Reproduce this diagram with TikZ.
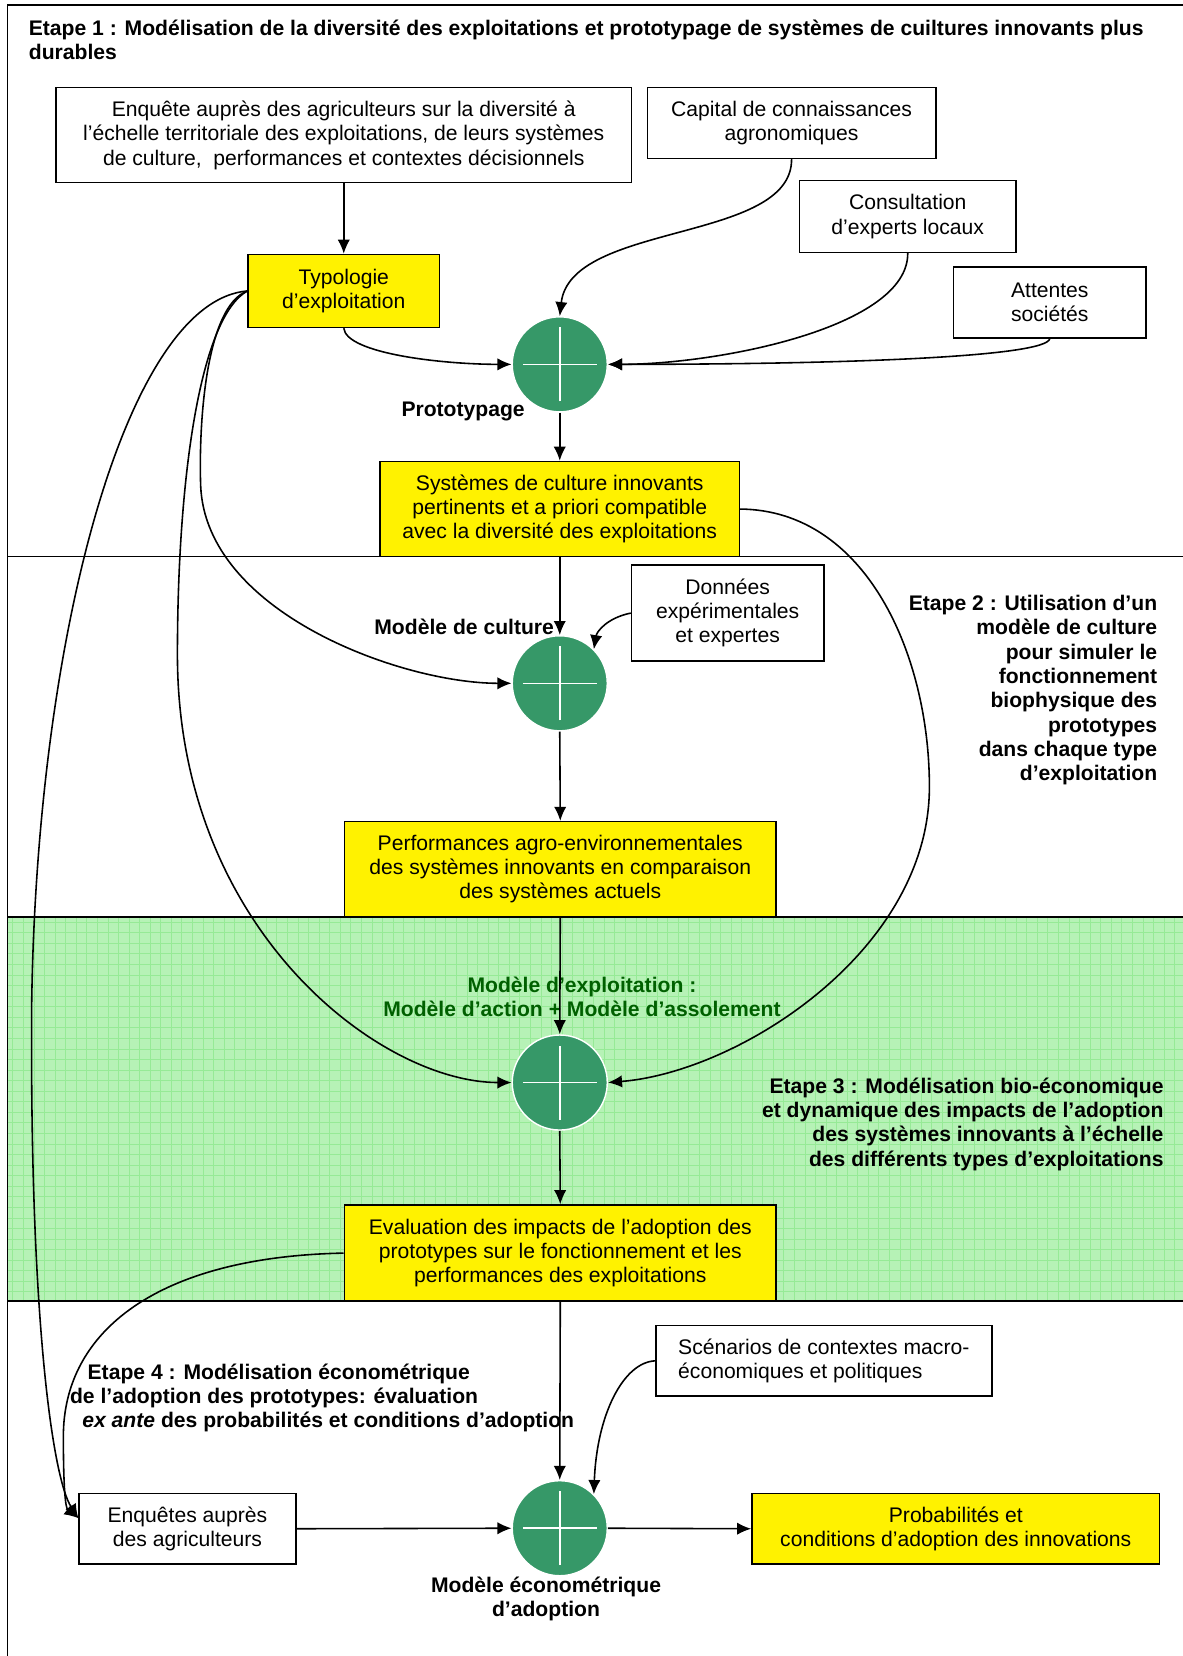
\documentclass[tikz,border=0pt]{standalone}
\usepackage{fontspec}
\setmainfont{Liberation Sans}
\usetikzlibrary{arrows.meta}

\definecolor{plusgreen}{RGB}{54,152,104}
\definecolor{bandgreen}{RGB}{182,242,182}
\definecolor{gridgreen}{RGB}{150,234,150}
\definecolor{labelgreen}{RGB}{0,96,0}

\begin{document}
\begin{tikzpicture}[>=Latex, x=0.6pt, y=-0.6pt,
	txt/.style={font=\fontsize{12}{13.8}\selectfont},
	box/.style={draw, line width=0.9pt, align=center, inner sep=0pt, txt},
	ybox/.style={box, fill=yellow},
	plus/.style={circle, fill=plusgreen, draw=white, line width=0.8pt, minimum size=54pt, inner sep=0pt},
	lbl/.style={font=\bfseries\fontsize{12}{13.8}\selectfont, inner sep=0pt},
	link/.style={-{Latex[length=8pt,width=7pt]}, line width=0.9pt},
	cross/.style={white, line width=0.9pt},
	gridline/.style={gridgreen, line width=0.25pt},
	]
	
	\useasboundingbox (0,0) rectangle (1120,1568);
	
	% ----- background: green band of step 3 and the frame
	\fill[bandgreen] (7,868) rectangle (1120,1232);
	\foreach \gx in {12,22,...,1120}
	\draw[gridline] (\gx,868) -- (\gx,1232);
	\foreach \gy in {873,883,...,1232}
	\draw[gridline] (7,\gy) -- (1120,\gy);
	\draw[line width=1pt] (1120,5) -- (7,5) -- (7,1568);
	\draw[line width=1pt] (7,527) -- (1120,527);
	\draw[line width=1pt] (7,868) -- (1120,868);
	\draw[line width=1pt] (7,1232) -- (1120,1232);
	
	% ----- ETAPE 1: prototypage
	\node[lbl, anchor=west, align=left] (et1) at (27,38)
	{Etape 1 : Modélisation de la diversité des exploitations et prototypage de systèmes de cuiltures innovants plus\\durables};
	
	\node[box, minimum width=327pt, minimum height=54pt] (enq) at (325.5,128)
	{Enquête auprès des agriculteurs sur la diversité à\\l’échelle territoriale des exploitations, de leurs systèmes\\de culture,\ \ performances et contextes décisionnels};
	\node[box, minimum width=163.8pt, minimum height=40.2pt] (cap) at (749.5,116.5)
	{Capital de connaissances\\agronomiques};
	\node[box, minimum width=123pt, minimum height=40.8pt] (con) at (859.5,205)
	{Consultation\\d’experts locaux};
	\node[box, minimum width=109.2pt, minimum height=40.2pt] (att) at (994,286.5)
	{Attentes\\sociétés};
	\node[ybox, minimum width=108.6pt, minimum height=41.4pt] (typo) at (325.5,275.5)
	{Typologie\\d’exploitation};
	
	\node[plus] (c1) at (530,345) {};
	\node[lbl] (proto) at (438.5,390) {Prototypage};
	
	\node[ybox, minimum width=204pt, minimum height=54pt] (sys) at (530,482)
	{Systèmes de culture innovants\\pertinents et a priori compatible\\avec la diversité des exploitations};
	
	% ----- ETAPE 2: modele de culture
	\node[box, minimum width=109.2pt, minimum height=54.6pt] (don) at (689,580.5)
	{Données\\expérimentales\\et expertes};
	\node[plus] (c2) at (530,647) {};
	\node[lbl] (mcult) at (439.5,594) {Modèle de culture};
	
	\node[ybox, minimum width=245.4pt, minimum height=54pt] (perf) at (530.5,823)
	{Performances agro-environnementales\\des systèmes innovants en comparaison\\des systèmes actuels};
	
	\node[lbl, anchor=east, align=right] (et2) at (1096,653.5)
	{Etape 2 : Utilisation d’un\\modèle de culture\\pour simuler le\\fonctionnement\\biophysique des\\prototypes\\dans chaque type\\d’exploitation};
	
	% ----- ETAPE 3: modele d'exploitation
	\node[lbl, text=labelgreen, align=center] (mexp) at (551,944)
	{Modèle d’exploitation :\\Modèle d’action + Modèle d’assolement};
	\node[plus] (c3) at (530,1025) {};
	
	\node[lbl, anchor=east, align=right] (et3) at (1102,1064.5)
	{Etape 3 : Modélisation bio-économique\\et dynamique des impacts de l’adoption\\des systèmes innovants à l’échelle\\des différents types d’exploitations};
	
	\node[ybox, minimum width=245.4pt, minimum height=54.6pt] (eval) at (530.5,1186.5)
	{Evaluation des impacts de l’adoption des\\prototypes sur le fonctionnement et les\\performances des exploitations};
	
	% ----- ETAPE 4: modele econometrique
	\node[lbl, anchor=west, align=left] (et4) at (66,1323.5)
	{\hspace*{10pt}Etape 4 : Modélisation économétrique\\de l’adoption des prototypes: évaluation\\\hspace*{7pt}\textit{ex ante} des probabilités et conditions d’adoption};
	
	\node[box, minimum width=190.8pt, minimum height=40.2pt, align=left] (scen) at (780,1288.5)
	{Scénarios de contextes macro-\\économiques et politiques};
	\node[box, minimum width=123pt, minimum height=40.2pt] (enq2) at (177.5,1447.5)
	{Enquêtes auprès\\des agriculteurs};
	\node[plus] (c4) at (530,1447) {};
	\node[ybox, minimum width=231.6pt, minimum height=40.2pt] (prob) at (905,1447.5)
	{Probabilités et\\conditions d’adoption des innovations};
	\node[lbl, align=center] (meco) at (517,1514)
	{Modèle économétrique\\d’adoption};
	
	% crosses in the green circles
	\foreach \c in {c1,c2,c3,c4}
	\draw[cross] ([xshift=-21pt]\c.center) -- ([xshift=21pt]\c.center)
	([yshift=-21pt]\c.center) -- ([yshift=21pt]\c.center);
	
	% ----- connectors
	\draw[link] (enq.south) -- (typo.north);
	\draw[link] (cap.south) .. controls (750,230) and (540,210) .. (c1.north);
	\draw[link] (con.south) .. controls (860,310) and (680,345) .. (c1.east);
	\draw[link] (att.south) .. controls (990,338) and (800,345) .. (c1.east);
	\draw[link] (typo.south) .. controls (328,335) and (420,345) .. (c1.west);
	\draw[link] (c1.south) -- (sys.north);
	\draw[link] (sys.south) -- (c2.north);
	\draw[link] (don.west) .. controls (575,585) and (565,598) .. (c2.north east);
	\draw[link] (typo.west) .. controls (195,290) and (188,400) .. (190,460)
	.. controls (195,580) and (380,647) .. (c2.west);
	\draw[link] (c2.south) -- (perf.north);
	\draw[link] (perf.south) -- (c3.north);
	\draw[link] (typo.west) .. controls (190,300) and (168,450) .. (168,620)
	.. controls (168,880) and (360,1025) .. (c3.west);
	\draw[link] (sys.east) .. controls (820,483) and (880,620) .. (880,745)
	.. controls (880,900) and (700,1015) .. (c3.east);
	\draw[link] (c3.south) -- (eval.north);
	\draw[link] (eval.south) -- (c4.north);
	\draw[link] (scen.west) .. controls (590,1290) and (565,1340) .. (c4.north east);
	\draw[link] (enq2.east) -- (c4.west);
	\draw[link] (c4.east) -- (prob.west);
	\draw[link] (eval.west) .. controls (150,1190) and (60,1260) .. (60,1360)
	.. controls (60,1410) and (62,1428) .. ([yshift=6pt]enq2.west);
	\draw[link] (typo.west) .. controls (120,285) and (35,600) .. (30,950)
	.. controls (28,1250) and (50,1400) .. ([yshift=6pt]enq2.west);
	
\end{tikzpicture}
\end{document}
